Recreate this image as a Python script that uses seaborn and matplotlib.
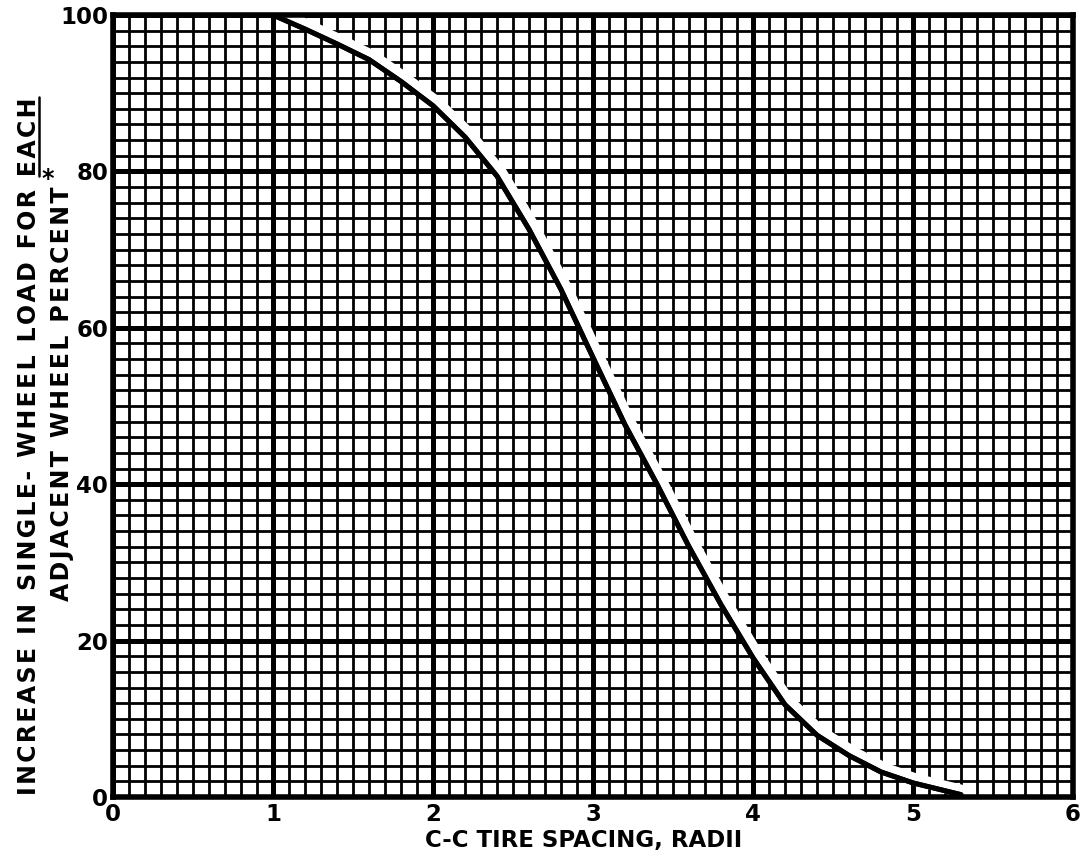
import numpy as np
import pandas as pd
import matplotlib
matplotlib.use("Agg")
import matplotlib.pyplot as plt
import matplotlib.patheffects as pe
from matplotlib.lines import Line2D
from matplotlib.ticker import MultipleLocator
import seaborn as sns

# ---- data ----
spacing_radii = [1.0, 1.2, 1.4, 1.6, 1.8, 2.0, 2.2, 2.4, 2.6, 2.8, 3.0,
                 3.2, 3.4, 3.6, 3.8, 4.0, 4.2, 4.4, 4.6, 4.8, 5.0, 5.3]
load_increase_pct = [100.0, 98.2, 96.3, 94.3, 91.5, 88.4, 84.4, 79.4, 72.6, 64.9, 56.2,
                     47.6, 40.0, 32.0, 24.6, 17.8, 11.8, 7.9, 5.3, 3.2, 1.8, 0.3]
x_ticks = [0, 1, 2, 3, 4, 5, 6]
y_ticks = [0, 20, 40, 60, 80, 100]
x_title = "C-C TIRE SPACING, RADII"
y_title_1 = "INCREASE IN SINGLE- WHEEL LOAD FOR EACH"
y_title_2 = "ADJACENT WHEEL PERCENT"

df = pd.DataFrame({"x": spacing_radii, "y": load_increase_pct})

sns.set_style("white")
plt.rcParams["font.family"] = ["DejaVu Sans"]
plt.rcParams["text.color"] = "black"
plt.rcParams["xtick.color"] = "black"
plt.rcParams["ytick.color"] = "black"

W, H = 1088, 866
fig = plt.figure(figsize=(W / 100, H / 100), dpi=100)
ax = fig.add_axes([113 / W, 1 - 797 / H, 960 / W, 782 / H])

ax.set_xlim(0, 6)
ax.set_ylim(0, 100)
ax.xaxis.set_major_locator(MultipleLocator(1))
ax.xaxis.set_minor_locator(MultipleLocator(0.1))
ax.yaxis.set_major_locator(MultipleLocator(20))
ax.yaxis.set_minor_locator(MultipleLocator(2))
ax.grid(which="minor", color="black", linewidth=2.0)
ax.grid(which="major", color="black", linewidth=3.6)
ax.set_axisbelow(True)

sns.lineplot(data=df, x="x", y="y", ax=ax, color="black", linewidth=3.6,
             path_effects=[pe.Stroke(linewidth=9, foreground="white", offset=(3, 2)),
                           pe.Stroke(linewidth=3.6, foreground="black"), pe.Normal()])

for s in ax.spines.values():
    s.set_visible(True)
    s.set_color("black")
    s.set_linewidth(4)

ax.set_xticks(x_ticks)
ax.set_yticks(y_ticks)
ax.set_xticklabels([str(v) for v in x_ticks], fontweight="bold")
ax.set_yticklabels([str(v) for v in y_ticks], fontweight="bold")
ax.tick_params(which="both", length=0, labelsize=16.5)
ax.tick_params(axis="y", pad=3.5)
ax.tick_params(axis="x", pad=4)
ax.set_xlabel("")
ax.set_ylabel("")

fig.canvas.draw()
renderer = fig.canvas.get_renderer()
inv = fig.transFigure.inverted()


def spaced_text(s, target_len, cx, cy, rotation=0, size=16.5):
    """Place letter-spaced text whose length best matches target_len (px)."""
    best = None
    for sep in ["", "\u200a", "\u2009", "\u2009\u200a", "\u2009\u2009",
                "\u2009\u2009\u200a", "\u2009\u2009\u2009"]:
        txt = sep.join(s)
        t = fig.text(cx / W, 1 - cy / H, txt, rotation=rotation, ha="center",
                     va="center", fontsize=size, fontweight="bold")
        bb = t.get_window_extent(renderer)
        ln = bb.height if rotation == 90 else bb.width
        err = abs(ln - target_len)
        if best is None or err < best[0]:
            if best is not None:
                best[1].remove()
            best = (err, t, sep)
        else:
            t.remove()
    return best[1], best[2]


tx, _ = spaced_text(x_title, 321, 584, 840, 0, 16.5)
t1, sep1 = spaced_text(y_title_1, 700, 29, 446, 90, 17)
t2, sep2 = spaced_text(y_title_2, 438, 62, 394, 90, 17)

fig.canvas.draw()
# asterisk on line 2
bb2 = t2.get_window_extent(renderer)
fig.text(48 / W, (bb2.y1 + 8) / H, "*", ha="center", va="center",
         fontsize=17, fontweight="bold")

# underline "EACH"
bb = t1.get_window_extent(renderer)
tmp = fig.text(0, 0, sep1.join("EACH"), fontsize=17, fontweight="bold")
w_each = tmp.get_window_extent(renderer).width
tmp.remove()
xu = bb.x1 - 2
(fx0, fy0) = inv.transform((xu, bb.y1 - w_each))
(fx1, fy1) = inv.transform((xu, bb.y1))
fig.add_artist(Line2D([fx0, fx1], [fy0, fy1], color="black", linewidth=1.8,
                      transform=fig.transFigure))

fig.savefig("out.png", dpi=100, facecolor="white")
